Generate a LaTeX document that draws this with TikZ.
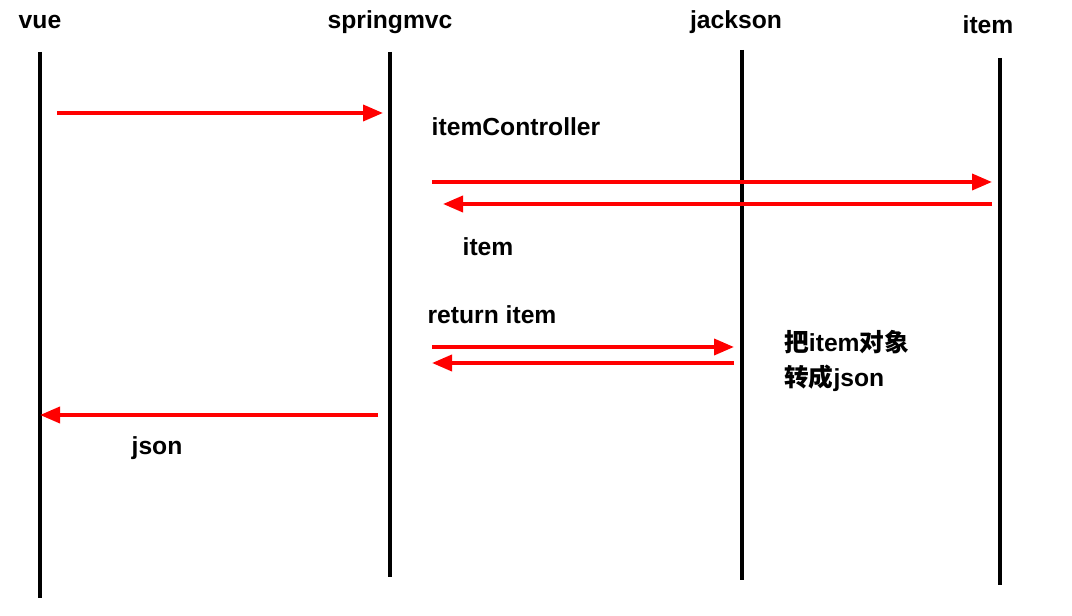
\documentclass[tikz,border=0pt]{standalone}
\usepackage{fontspec}
\setmainfont{Liberation Sans}
\newfontfamily\cjk{Noto Sans CJK SC}
\usetikzlibrary{arrows.meta}
\begin{document}
\begin{tikzpicture}[
                x = 0.75pt, y = -0.75pt,
                life/.style = {draw, line width = 2.8pt},
                msg/.style = {draw = red, line width = 2.8pt, -{Triangle[length = 15pt, width = 12pt]}},
                lbl/.style = {font = \bfseries\fontsize{18.5}{22}\selectfont, inner sep = 0pt},
            ]
            \useasboundingbox (0,0) rectangle (1072,616);

            \node (vue) [lbl] at (40,22) {vue};
            \node (mvc) [lbl] at (390,22) {springmvc};
            \node (jack) [lbl] at (736,22) {jackson};
            \node (itm) [lbl] at (988,25) {item};

            \coordinate (v1) at (40,52);   \coordinate (v2) at (40,598);
            \coordinate (s1) at (390,52);  \coordinate (s2) at (390,577);
            \coordinate (j1) at (742,50);  \coordinate (j2) at (742,580);
            \coordinate (i1) at (1000,58); \coordinate (i2) at (1000,585);

            \path[life] (v1) -- (v2);
            \path[life] (s1) -- (s2);
            \path[life] (j1) -- (j2);
            \path[life] (i1) -- (i2);

            \coordinate (a1) at (57,113);  \coordinate (b1) at (383,113);
            \coordinate (a2) at (432,182); \coordinate (b2) at (992,182);
            \coordinate (a3) at (992,204); \coordinate (b3) at (443,204);
            \coordinate (a4) at (432,347); \coordinate (b4) at (734,347);
            \coordinate (a5) at (734,363); \coordinate (b5) at (432,363);
            \coordinate (a6) at (378,415); \coordinate (b6) at (40,415);

            \path[msg] (a1) -- (b1);
            \path[msg] (a2) -- (b2);
            \path[msg] (a3) -- (b3);
            \path[msg] (a4) -- (b4);
            \path[msg] (a5) -- (b5);
            \path[msg] (a6) -- (b6);

            \node (ctrl) [lbl] at (516,127) {itemController};
            \node (back) [lbl] at (488,247) {item};
            \node (ret) [lbl] at (492,315) {return item};
            \node (conv) [lbl, anchor = west, align = left] at (784,361)
                {{\cjk 把}item{\cjk 对象}\\[4pt]{\cjk 转成}json};
            \node (json) [lbl] at (157,448) {json};
        \end{tikzpicture}
\end{document}
